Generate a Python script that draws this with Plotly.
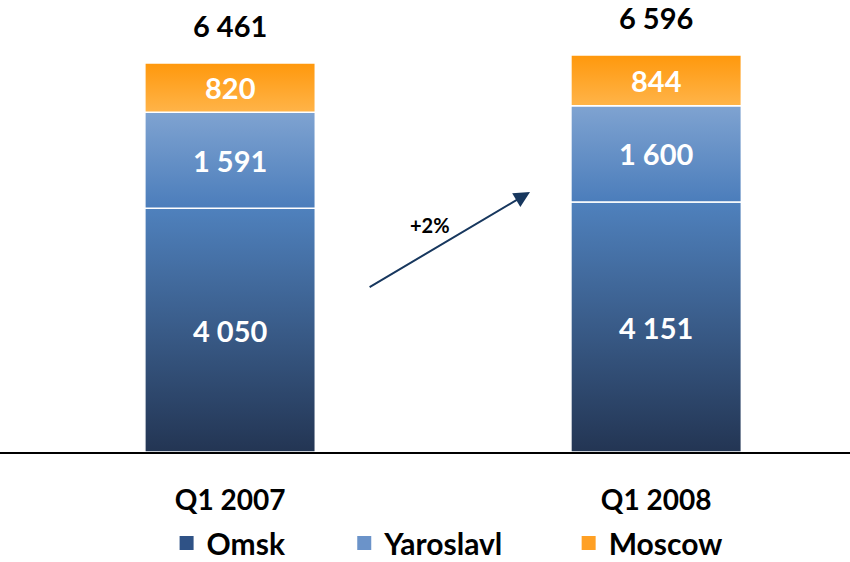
import plotly.graph_objects as go

categories = ["Q1 2007", "Q1 2008"]
series_names = ["Omsk", "Yaroslavl", "Moscow"]
omsk = [4050, 4151]
yaroslavl = [1591, 1600]
moscow = [820, 844]
totals = [6461, 6596]

values = [omsk, yaroslavl, moscow]
grad = {
    "Omsk": ("#233553", "#4f81bd"),
    "Yaroslavl": ("#4b7dbb", "#7fa3d1"),
    "Moscow": ("#ffb449", "#ff980c"),
}
legend_colors = {"Omsk": "#2f5286", "Yaroslavl": "#6b93c9", "Moscow": "#ffa024"}

FONT = "Lato"
def fmt(v):
    return f"{v:,}".replace(",", " ")

fig = go.Figure()
half = 0.2
xs = list(range(len(categories)))
for i in xs:
    base = 0
    for name, vals in zip(series_names, values):
        top = base + vals[i]
        bottom_c, top_c = grad[name]
        fig.add_trace(go.Scatter(
            x=[i - half, i + half, i + half, i - half, i - half],
            y=[base, base, top, top, base],
            mode="lines", fill="toself",
            fillgradient=dict(type="vertical", colorscale=[[0, bottom_c], [1, top_c]]),
            line=dict(color="white", width=1.5),
            showlegend=False, hoverinfo="skip",
        ))
        fig.add_annotation(x=i, y=base + vals[i] / 2, text=fmt(vals[i]), showarrow=False,
                           font=dict(family=FONT, size=29, color="white", weight="bold"))
        base = top
    fig.add_annotation(x=i, y=totals[i], text=fmt(totals[i]), showarrow=False,
                       yanchor="bottom", yshift=18,
                       font=dict(family=FONT, size=29, color="black", weight="bold"))

# legends
legend_x = [0.196, 0.405, 0.669]
for k, name in enumerate(series_names):
    lg = "legend" if k == 0 else f"legend{k+1}"
    fig.add_trace(go.Scatter(
        x=[None], y=[None], mode="markers", name=name, legend=lg,
        marker=dict(symbol="square", size=14, color=legend_colors[name]),
    ))

growth = round((totals[1] / totals[0] - 1) * 100)
fig.add_annotation(x=0.704, y=4318, ax=0.324, ay=2724, xref="x", yref="y", axref="x", ayref="y",
                   showarrow=True, arrowhead=2, arrowsize=1.6, arrowwidth=2, arrowcolor="#17375e", text="")
fig.add_annotation(x=0.469, y=3770, text=f"+{growth}%", showarrow=False,
                   font=dict(family=FONT, size=20, color="black", weight="bold"))

leg_common = dict(orientation="h", yanchor="middle", y=-0.2106, xanchor="left",
                  font=dict(family=FONT, size=30, color="black", weight="bold"),
                  bgcolor="rgba(0,0,0,0)")
fig.update_layout(
    width=850, height=562,
    margin=dict(l=0, r=0, t=20, b=110, autoexpand=False),
    paper_bgcolor="white", plot_bgcolor="white",
    legend=dict(x=legend_x[0], **leg_common),
    legend2=dict(x=legend_x[1], **leg_common),
    legend3=dict(x=legend_x[2], **leg_common),
    xaxis=dict(range=[-0.540, 1.455], tickvals=xs, ticktext=categories,
               showline=True, linecolor="black", linewidth=2, showgrid=False, zeroline=False,
               ticks="", ticklabelstandoff=22,
               tickfont=dict(family=FONT, size=28, color="black", weight="bold")),
    yaxis=dict(range=[0, 7175], visible=False, showgrid=False, zeroline=False),
)
fig.write_html("out.html", config={"displayModeBar": False},
               post_script="document.body.style.margin='0';document.body.style.overflow='hidden';")
